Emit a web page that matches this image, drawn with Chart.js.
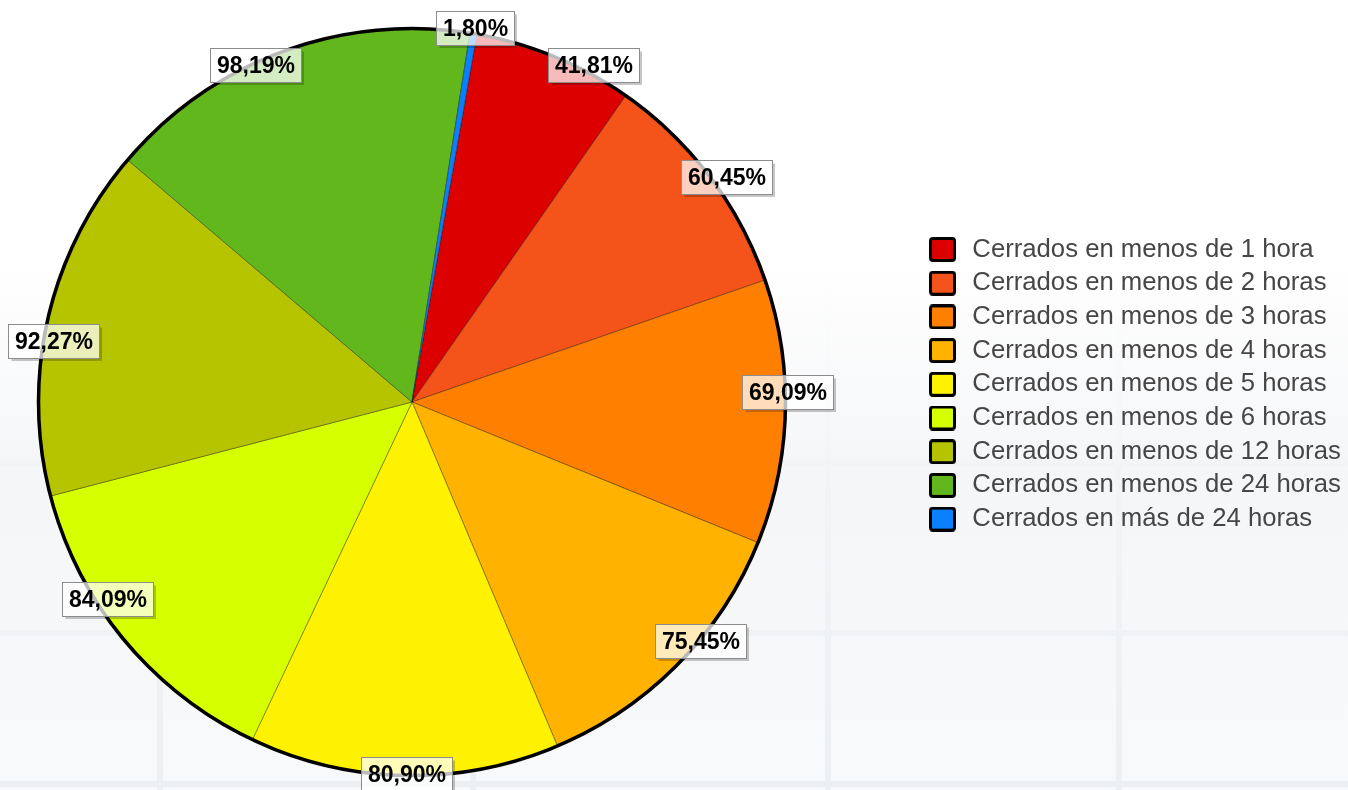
<!DOCTYPE html>
<html>
<head>
<meta charset="utf-8">
<script src="https://cdn.jsdelivr.net/npm/chart.js@4.4.1/dist/chart.umd.min.js"></script>
<style>
  html, body { margin: 0; padding: 0; background: #ffffff; overflow: hidden; }
  #wrap { position: relative; width: 1348px; height: 790px; }
  canvas { display: block; }
</style>
</head>
<body>
<div id="wrap"><canvas id="c" width="1348" height="790"></canvas></div>
<script>
// ---- data ----
const categories = [
  "Cerrados en menos de 1 hora",
  "Cerrados en menos de 2 horas",
  "Cerrados en menos de 3 horas",
  "Cerrados en menos de 4 horas",
  "Cerrados en menos de 5 horas",
  "Cerrados en menos de 6 horas",
  "Cerrados en menos de 12 horas",
  "Cerrados en menos de 24 horas",
  "Cerrados en más de 24 horas"
];
const values = [41.81, 60.45, 69.09, 75.45, 80.90, 84.09, 92.27, 98.19, 1.80];
const sliceColors = ["#DD0000", "#F4531A", "#FF7F00", "#FFB300", "#FFF200", "#D6FF00", "#B6C400", "#62B71D", "#0A80FF"];

Chart.defaults.font.family = '"Liberation Sans", Arial, Helvetica, sans-serif';

// background tiles (decoration only)
function drawBackground(ctx, W, H) {
  ctx.save();
  ctx.fillStyle = '#ffffff';
  ctx.fillRect(0, 0, W, H);
  const sep = ctx.createLinearGradient(0, 260, 0, H);
  sep.addColorStop(0, 'rgba(236,239,242,0)');
  sep.addColorStop(0.4, 'rgba(236,239,242,0.7)');
  sep.addColorStop(1, 'rgba(236,239,242,0.95)');
  ctx.fillStyle = sep;
  ctx.fillRect(0, 260, W, H - 260);
  const tile = ctx.createLinearGradient(0, 260, 0, H);
  tile.addColorStop(0, '#ffffff');
  tile.addColorStop(0.4, '#f5f6f8');
  tile.addColorStop(1, '#f8f9fa');
  const cols = [[-10, 157], [163, 470], [476, 825], [831, 1116], [1122, 1360]];
  const rows = [[150, 460], [466, 630], [636, 781], [787, 830]];
  ctx.fillStyle = tile;
  rows.forEach(r => cols.forEach(c => ctx.fillRect(c[0], r[0], c[1] - c[0], r[1] - r[0])));
  ctx.restore();
}

// legend marker: square with thick black border
function makeMarker(color) {
  const c = document.createElement('canvas');
  c.width = 27; c.height = 25;
  const g = c.getContext('2d');
  g.beginPath();
  if (g.roundRect) g.roundRect(1.5, 1.5, 24, 22, 2.5); else g.rect(1.5, 1.5, 24, 22);
  g.fillStyle = color; g.fill();
  g.lineWidth = 3; g.strokeStyle = '#000000'; g.stroke();
  return c;
}

const decoPlugin = {
  id: 'deco',
  beforeDraw(chart) {
    drawBackground(chart.ctx, chart.width, chart.height);
    // place the legend block to the right of the pie
    const lg = chart.legend;
    if (lg) {
      lg.left = 917.5; lg.right = chart.width;
      lg.width = lg.right - lg.left;
      lg.top = 0; lg.bottom = 768.6; lg.height = 768.6;
    }
  },
  afterDatasetsDraw(chart, args, opts) {
    const ctx = chart.ctx;
    const meta = chart.getDatasetMeta(0);
    if (!meta.data.length) return;
    const p0 = meta.data[0].getProps(['x', 'y', 'outerRadius'], true);
    ctx.save();
    ctx.beginPath();
    ctx.arc(p0.x, p0.y, p0.outerRadius, 0, Math.PI * 2);
    ctx.lineWidth = 3.5;
    ctx.strokeStyle = '#000000';
    ctx.stroke();
    ctx.restore();

    ctx.save();
    ctx.font = 'bold 23px "Liberation Sans", Arial, sans-serif';
    ctx.textAlign = 'center';
    ctx.textBaseline = 'middle';
    meta.data.forEach((arc, i) => {
      const p = arc.getProps(['x', 'y', 'startAngle', 'endAngle', 'outerRadius'], true);
      const sh = opts.shifts[i] || [0, 0];
      const ang = (p.startAngle + p.endAngle) / 2 + sh[0] * Math.PI / 180;
      const r = p.outerRadius + sh[1];
      const lx = p.x + r * Math.cos(ang);
      const ly = p.y + r * Math.sin(ang);
      const txt = values[i].toFixed(2).replace('.', ',') + '%';
      const tw = ctx.measureText(txt).width;
      const bw = Math.round(tw + 13), bh = 34;
      const bx = Math.round(lx - bw / 2) + 0.5, by = Math.round(ly - bh / 2) + 0.5;
      // shadow
      ctx.beginPath();
      ctx.moveTo(bx + 3, by + bh + 1.5);
      ctx.lineTo(bx + bw + 1.5, by + bh + 1.5);
      ctx.lineTo(bx + bw + 1.5, by + 3);
      ctx.lineWidth = 2;
      ctx.strokeStyle = 'rgba(0,0,0,0.22)';
      ctx.stroke();
      // box
      ctx.fillStyle = 'rgba(255,255,255,0.73)';
      ctx.fillRect(bx, by, bw, bh);
      ctx.lineWidth = 1;
      ctx.strokeStyle = '#8c8c8c';
      ctx.strokeRect(bx, by, bw, bh);
      ctx.fillStyle = '#000000';
      ctx.fillText(txt, bx + bw / 2, by + bh / 2 + 1);
    });
    ctx.restore();
  }
};

new Chart(document.getElementById('c'), {
  type: 'pie',
  data: {
    labels: categories,
    datasets: [{
      data: values,
      backgroundColor: sliceColors,
      borderColor: 'rgba(0,0,0,0.35)',
      borderWidth: 1
    }]
  },
  options: {
    responsive: false,
    animation: false,
    rotation: 10,
    layout: { padding: { left: 0, right: 524, top: 28, bottom: 14 } },
    plugins: {
      tooltip: { enabled: false },
      legend: {
        position: 'chartArea',
        labels: {
          usePointStyle: true,
          pointStyleWidth: 34,
          boxHeight: 22,
          padding: 8,
          color: '#464646',
          font: { size: 25.7, family: '"Liberation Sans", Arial, sans-serif' },
          generateLabels(chart) {
            const items = Chart.overrides.doughnut.plugins.legend.labels.generateLabels(chart);
            items.forEach((it, i) => { it.pointStyle = makeMarker(sliceColors[i]); it.rotation = 0; });
            return items;
          }
        }
      },
      deco: {
        // label nudges: [angle offset in degrees, radial offset in px]
        shifts: [[5.8, 9], [1.5, 13], [-3.1, 2], [-5.0, 1.5], [-0.3, -1.5], [6.7, -11], [-3.2, -10], [-4.5, -2], [0.1, 5.8]]
      }
    }
  },
  plugins: [decoPlugin]
});
</script>
</body>
</html>
